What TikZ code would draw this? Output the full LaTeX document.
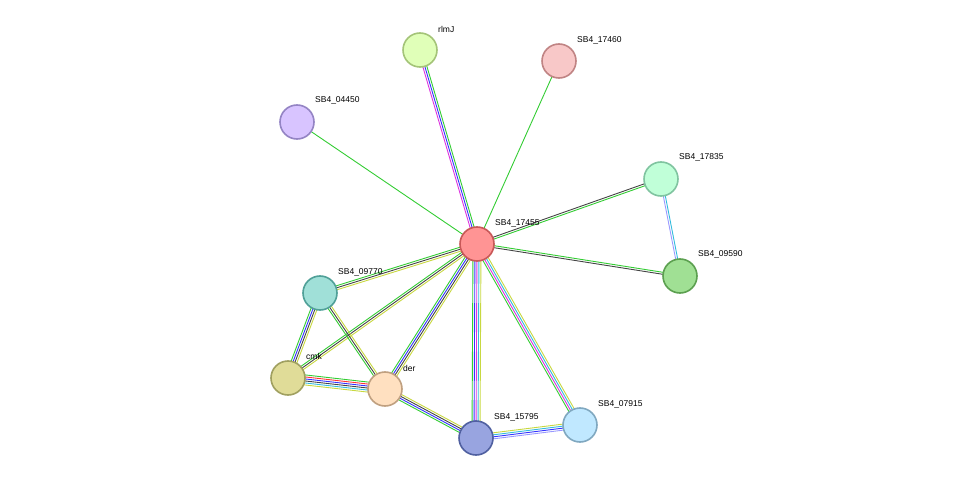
\documentclass[tikz,border=0pt]{standalone}
\usepackage{fontspec}
\setmainfont{Liberation Sans}
\usetikzlibrary{calc,backgrounds}
\definecolor{egreen}{HTML}{33CC33}
\definecolor{eblue}{HTML}{3333FF}
\definecolor{emag}{HTML}{DD33DD}
\definecolor{ecyan}{HTML}{33BBDD}
\definecolor{eyel}{HTML}{C8D840}
\definecolor{eblack}{HTML}{444444}
\definecolor{ered}{HTML}{FF3333}
\definecolor{elav}{HTML}{9999FF}
\tikzset{
  prot/.style 2 args={circle, draw={rgb,255:#2}, fill={rgb,255:#1}, line width=1.6pt, minimum size=34pt, inner sep=0pt},
  plabel/.style={anchor=west, font=\fontsize{8.5}{9}\selectfont, inner sep=0pt},
}
% parallel coloured lines between two proteins
\newcommand\linkedge[4]{%
  \foreach \c [count=\i] in {#4} {%
    \pgfmathsetmacro\o{(\i-(#3+1)/2)*2}
    \draw[\c, line width=0.9pt] ($(#1)!\o pt!90:(#2)$) -- ($(#2)!\o pt!-90:(#1)$);
  }}
\begin{document}
\begin{tikzpicture}[x=1pt,y=-1pt]
  \useasboundingbox (0,0) rectangle (975,484);
% proteins
  \node[prot={red,255;green,148;blue,148}{red,200;green,88;blue,88}] (n17455) at (477,244) {};
  \node[prot={red,224;green,255;blue,184}{red,164;green,196;blue,120}] (rlmJ) at (420,50) {};
  \node[prot={red,248;green,200;blue,200}{red,192;green,132;blue,132}] (n17460) at (559,61) {};
  \node[prot={red,216;green,196;blue,255}{red,148;green,132;blue,196}] (n04450) at (297,122) {};
  \node[prot={red,192;green,255;blue,216}{red,128;green,196;blue,160}] (n17835) at (661,179) {};
  \node[prot={red,160;green,224;blue,148}{red,92;green,160;blue,80}] (n09590) at (680,276) {};
  \node[prot={red,160;green,224;blue,216}{red,80;green,160;blue,152}] (n09770) at (320,293) {};
  \node[prot={red,224;green,220;blue,152}{red,160;green,160;blue,96}] (cmk) at (288,378) {};
  \node[prot={red,255;green,224;blue,192}{red,192;green,160;blue,128}] (der) at (385,389) {};
  \node[prot={red,152;green,164;blue,224}{red,80;green,96;blue,160}] (n15795) at (476,438) {};
  \node[prot={red,192;green,232;blue,255}{red,128;green,168;blue,192}] (n07915) at (580,425) {};
% labels
  \node[plabel] (l17455) at ($(n17455)+(18,-21)$) {SB4\_17455};
  \node[plabel] (lrlmJ) at ($(rlmJ)+(18,-21)$) {rlmJ};
  \node[plabel] (l17460) at ($(n17460)+(18,-21)$) {SB4\_17460};
  \node[plabel] (l04450) at ($(n04450)+(18,-22)$) {SB4\_04450};
  \node[plabel] (l17835) at ($(n17835)+(18,-22)$) {SB4\_17835};
  \node[plabel] (l09590) at ($(n09590)+(18,-22)$) {SB4\_09590};
  \node[plabel] (l09770) at ($(n09770)+(18,-21)$) {SB4\_09770};
  \node[plabel] (lcmk) at ($(cmk)+(18,-22)$) {cmk};
  \node[plabel] (lder) at ($(der)+(18,-21)$) {der};
  \node[plabel] (l15795) at ($(n15795)+(18,-21)$) {SB4\_15795};
  \node[plabel] (l07915) at ($(n07915)+(18,-21)$) {SB4\_07915};
% links
\begin{scope}[on background layer]
  \linkedge{n17455}{rlmJ}{3}{egreen,eblue,emag}
  \linkedge{n17455}{n17460}{1}{egreen}
  \linkedge{n17455}{n04450}{1}{egreen}
  \linkedge{n17455}{n17835}{2}{egreen,eblack}
  \linkedge{n17835}{n09590}{2}{elav,ecyan}
  \linkedge{n17455}{n09590}{2}{eblack,egreen}
  \linkedge{n17455}{n09770}{3}{egreen,eblack,eyel}
  \linkedge{n17455}{cmk}{3}{egreen,eblack,eyel}
  \linkedge{n17455}{der}{4}{egreen,eblue,eblack,eyel}
  \linkedge{n17455}{n15795}{5}{egreen,eblue,emag,ecyan,eyel}
  \linkedge{n17455}{n07915}{4}{egreen,emag,ecyan,eyel}
  \linkedge{n09770}{cmk}{4}{egreen,eblue,eblack,eyel}
  \linkedge{n09770}{der}{3}{egreen,eblack,eyel}
  \linkedge{cmk}{der}{6}{eyel,ecyan,eblack,eblue,ered,egreen}
  \linkedge{der}{n15795}{4}{egreen,eblue,eblack,eyel}
  \linkedge{n15795}{n07915}{4}{elav,eblue,ecyan,eyel}
\end{scope}
\end{tikzpicture}
\end{document}
